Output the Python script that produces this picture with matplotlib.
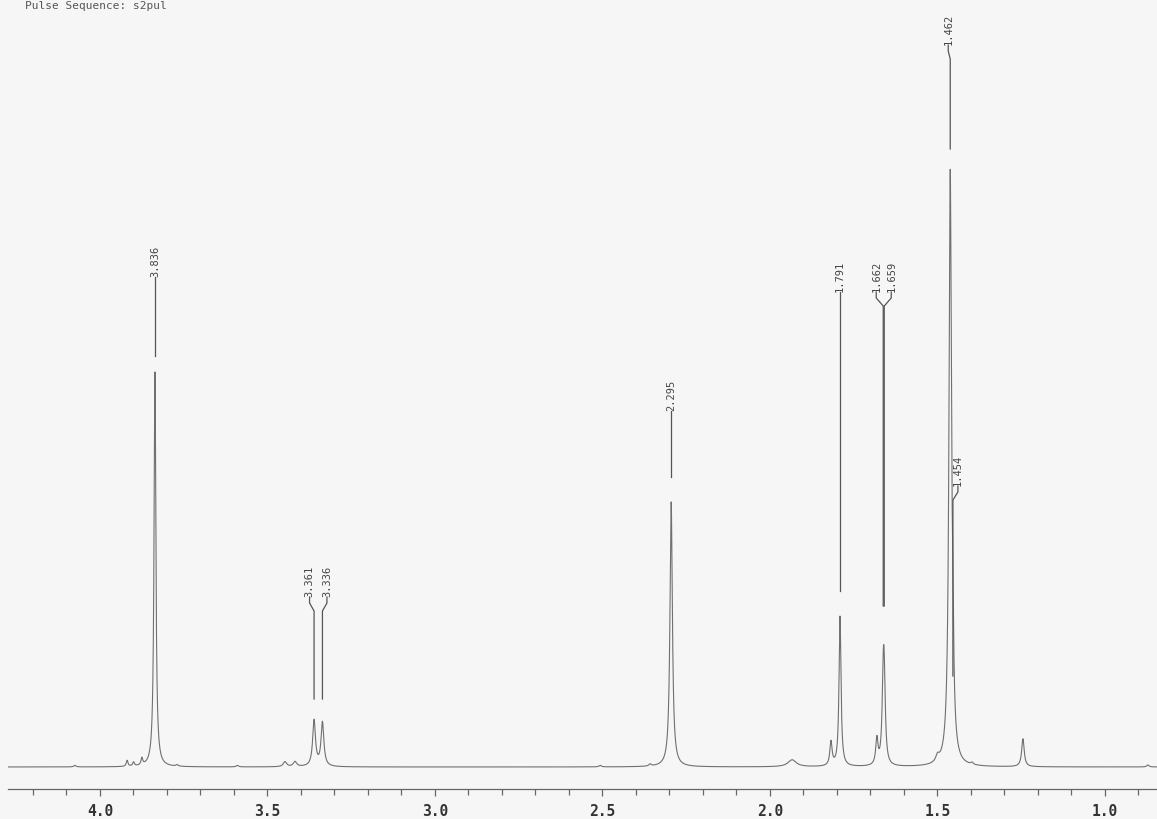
import numpy as np
import matplotlib.pyplot as plt
from matplotlib.ticker import MultipleLocator, FormatStrFormatter

# peak table: shift (ppm), height (px above baseline), half width (ppm)
shifts = [4.075, 3.919, 3.900, 3.875, 3.836, 3.770, 3.590, 3.448, 3.418, 3.361, 3.336,
          2.507, 2.358, 2.295, 1.934, 1.818, 1.791, 1.681, 1.662, 1.659, 1.500, 1.462,
          1.454, 1.397, 1.245, 0.872]
heights = [1.5, 6, 4, 7, 395, 1.5, 1.5, 5, 5, 46, 44,
           1.5, 2, 265, 7, 24, 150, 26, 70, 68, 6, 590,
           60, 2, 28, 2]
widths = [0.004, 0.003, 0.003, 0.003, 0.0033, 0.004, 0.004, 0.006, 0.006, 0.005, 0.005,
          0.004, 0.004, 0.0043, 0.015, 0.004, 0.0035, 0.004, 0.004, 0.004, 0.006, 0.0045,
          0.003, 0.004, 0.0045, 0.004]

# printed peak picks, grouped the way the plotter drew them
label_groups = [["3.836"], ["3.361", "3.336"], ["2.295"], ["1.791"],
                ["1.662", "1.659"], ["1.462"], ["1.454"]]
tick_step = 0.5

PX = 335.0          # pixels per ppm on the scan
BASE = 768.0        # baseline row on the scan


def spectrum(ppm):
    y = np.zeros_like(ppm)
    for x0, h, w in zip(shifts, heights, widths):
        y += h / (1 + ((ppm - x0) / w) ** 2)
    return y


def draw_label(ax, group, text_bottom, line_end, spread):
    n = len(group)
    for i, lab in enumerate(group):
        ppm = float(lab)
        dx = spread * (i - (n - 1) / 2)
        tx = ppm - dx / PX if n > 1 else ppm - spread / PX
        yb = BASE - text_bottom
        ax.text(tx, yb + 1, lab, rotation=90, ha='center', va='bottom',
                family='DejaVu Sans Mono', fontsize=7.5, color='#444')
        xs = [tx, tx, ppm, ppm]
        ys = [yb, yb - 6, yb - 14, BASE - line_end]
        ax.plot(xs, ys, color='#555', lw=0.9)


ppm = np.linspace(4.3, 0.8, 30000)
y = spectrum(ppm)

fig = plt.figure(figsize=(11.57, 8.2), dpi=100, facecolor='#f6f6f6')
ax = fig.add_axes([8 / 1157, 30 / 820, 1149 / 1157, 790 / 820])
ax.set_facecolor('#f6f6f6')
ax.plot(ppm, y, color='#707070', lw=0.8)

ax.set_xlim(4.0 + 92 / PX, 4.0 - 1149 / PX + 92 / PX)
ax.set_ylim(-22, BASE)

# label layout (scan rows): text bottom, line end, spread of text
layout = [(278, 357, 0), (598, 700, 9), (412, 478, 0), (293, 592, 0),
          (293, 607, 14), (46, 150, -2), (487, 677, 5)]
for group, (tb, le, sp) in zip(label_groups, layout):
    draw_label(ax, group, tb, le, sp)

for s in ['top', 'left', 'right']:
    ax.spines[s].set_visible(False)
ax.spines['bottom'].set_color('#666')
ax.spines['bottom'].set_linewidth(0.9)
ax.set_yticks([])
ax.xaxis.set_major_locator(MultipleLocator(tick_step))
ax.xaxis.set_minor_locator(MultipleLocator(0.1))
ax.xaxis.set_major_formatter(FormatStrFormatter('%.1f'))
ax.tick_params(axis='x', which='major', length=5, width=0.9, color='#666', pad=5,
               labelsize=10.5, labelcolor='#333')
ax.tick_params(axis='x', which='minor', length=4, width=0.9, color='#666')
for t in ax.get_xticklabels():
    t.set_family('DejaVu Sans Mono')
    t.set_fontweight('bold')

fig.text(25 / 1157, 1 - 1 / 820, "Pulse Sequence: s2pul", va='top', ha='left',
         family='DejaVu Sans Mono', fontsize=8, color='#555')

fig.savefig('out.png', dpi=100, facecolor=fig.get_facecolor())
